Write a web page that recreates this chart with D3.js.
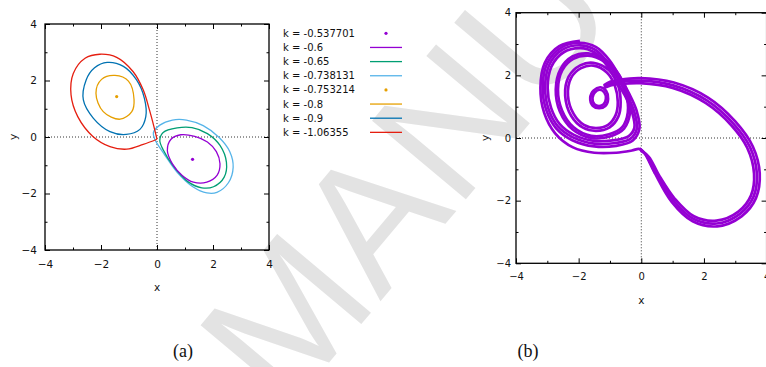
<!DOCTYPE html>
<html>
<head>
<meta charset="utf-8">
<script src="https://cdn.jsdelivr.net/npm/d3@7"></script>
<style>
  html, body { margin: 0; padding: 0; background: #fff; }
  svg { display: block; }
</style>
</head>
<body>
<svg id="fig" width="766" height="367"></svg>
<script>
// ---------- data ----------
const axisTicks = [-4, -2, 0, 2, 4];
const minorTicks = [-3, -1, 1, 3];

const legendLabels = ["k = -0.537701", "k = -0.6", "k = -0.65", "k = -0.738131",
                      "k = -0.753214", "k = -0.8", "k = -0.9", "k = -1.06355"];
const legendKinds = ["dot", "line", "line", "line", "dot", "line", "line", "line"];

// equilibria (k = -0.537701 and k = -0.753214)
const fixedPointRight = [1.27, -0.79];
const fixedPointLeft = [-1.44, 1.43];

// periodic orbits, panel (a)
const orbitK060 = [[0.85,0.08],[1.35,0.02],[1.8,-0.18],[2.12,-0.52],[2.25,-0.95],[2.15,-1.35],[1.78,-1.6],[1.3,-1.6],[0.9,-1.36],[0.55,-0.95],[0.37,-0.48],[0.5,-0.08]];
const orbitK065 = [[0.22,0.16],[0.72,0.32],[1.25,0.33],[1.8,0.12],[2.25,-0.3],[2.48,-0.9],[2.4,-1.42],[2.02,-1.76],[1.6,-1.8],[1.1,-1.58],[0.6,-1.05],[0.22,-0.45],[0.1,-0.12]];
const orbitK0738 = [[-0.13,0.15],[0.1,0.42],[0.55,0.6],[1.05,0.6],[1.65,0.4],[2.22,-0.02],[2.6,-0.52],[2.72,-1.07],[2.55,-1.62],[2.14,-1.96],[1.78,-1.98],[1.28,-1.76],[0.72,-1.25],[0.24,-0.58],[-0.07,-0.1]];
const orbitK080 = [[-1.5,2.18],[-1.02,1.98],[-0.82,1.33],[-0.9,0.9],[-1.32,0.63],[-1.92,0.9],[-2.18,1.55],[-1.98,2.04]];
const orbitK090 = [[-1.78,2.64],[-1.2,2.5],[-0.73,2.02],[-0.45,1.37],[-0.4,0.72],[-0.61,0.27],[-1.1,0.09],[-1.68,0.19],[-2.27,0.66],[-2.63,1.31],[-2.53,2.02],[-2.23,2.45]];
const orbitK106 = [[0.0,-0.08],[-0.11,0.37],[-0.27,0.96],[-0.49,1.66],[-0.85,2.31],[-1.44,2.82],[-2.04,2.93],[-2.57,2.79],[-2.99,2.25],[-3.07,1.49],[-2.83,0.72],[-2.29,0.02],[-1.68,-0.34],[-1.08,-0.43],[-0.49,-0.26],[0.0,-0.08]];

// chaotic attractor, panel (b): strands of the trajectory
const returnLoopOuter = [[-0.06,-0.33],[0.1,-0.48],[0.42,-1.1],[0.97,-2.04],[1.64,-2.66],[2.42,-2.82],[3.2,-2.5],[3.66,-1.92],[3.78,-1.13],[3.56,-0.27],[3.0,0.53],[2.13,1.29],[1.04,1.77],[-0.04,1.91],[-0.7,1.86],[-0.98,1.8],[-1.2,1.68]];
const returnLoopMid = [[-0.04,-0.36],[0.17,-0.55],[0.49,-1.14],[1.02,-1.99],[1.66,-2.58],[2.41,-2.73],[3.15,-2.42],[3.58,-1.88],[3.69,-1.14],[3.47,-0.29],[2.94,0.46],[2.09,1.2],[1.02,1.68],[-0.04,1.83],[-0.7,1.79],[-0.98,1.74],[-1.2,1.64]];
const returnLoopInner = [[-0.02,-0.4],[0.24,-0.6],[0.56,-1.18],[1.07,-1.94],[1.68,-2.5],[2.4,-2.64],[3.1,-2.35],[3.5,-1.84],[3.6,-1.14],[3.38,-0.31],[2.88,0.4],[2.05,1.12],[1.0,1.6],[-0.04,1.75],[-0.7,1.72],[-0.98,1.68],[-1.18,1.6]];
const smallLoopA = [[-1.3,1.62],[-1.52,1.52],[-1.63,1.28],[-1.55,1.03],[-1.35,0.95],[-1.15,1.02],[-1.06,1.25],[-1.12,1.5]];
const smallLoopB = [[-1.32,1.54],[-1.48,1.46],[-1.56,1.28],[-1.5,1.08],[-1.35,1.02],[-1.2,1.08],[-1.13,1.26],[-1.18,1.45]];
const spiralRing1a = [[-1.53,2.4],[-1.95,2.32],[-2.32,1.96],[-2.43,1.35],[-2.24,0.71],[-1.86,0.33],[-1.45,0.23],[-1.01,0.34],[-0.73,0.69],[-0.66,1.15],[-0.75,1.71],[-1.04,2.17]];
const spiralRing1b = [[-1.53,2.31],[-1.92,2.23],[-2.24,1.92],[-2.34,1.35],[-2.16,0.77],[-1.83,0.42],[-1.45,0.32],[-1.06,0.42],[-0.82,0.73],[-0.75,1.15],[-0.84,1.66],[-1.1,2.09]];
const spiralRing2a = [[-1.7,2.7],[-2.2,2.6],[-2.58,2.2],[-2.73,1.55],[-2.6,0.85],[-2.2,0.28],[-1.6,0.0],[-1.0,0.05],[-0.55,0.3],[-0.36,0.8],[-0.42,1.4],[-0.7,2.0],[-1.15,2.5]];
const spiralRing2b = [[-1.7,2.63],[-2.17,2.53],[-2.52,2.17],[-2.66,1.55],[-2.53,0.88],[-2.16,0.34],[-1.6,0.07],[-1.03,0.12],[-0.61,0.35],[-0.43,0.82],[-0.49,1.4],[-0.76,1.97],[-1.18,2.44]];
const spiralRing3a = [[-1.96,3.04],[-2.57,2.88],[-3.01,2.37],[-3.15,1.6],[-3.03,0.88],[-2.72,0.31],[-2.2,-0.07],[-1.5,-0.27],[-0.8,-0.25],[-0.28,-0.09],[-0.06,0.3],[-0.15,0.87],[-0.38,1.4],[-0.66,1.91],[-1.02,2.49],[-1.44,2.9]];
const spiralRing3b = [[-1.96,2.96],[-2.53,2.81],[-2.94,2.33],[-3.07,1.6],[-2.96,0.92],[-2.67,0.38],[-2.18,0.02],[-1.5,-0.18],[-0.82,-0.16],[-0.34,-0.02],[-0.14,0.31],[-0.23,0.85],[-0.45,1.37],[-0.73,1.86],[-1.08,2.42],[-1.46,2.81]];
const spiralRing3c = [[-1.95,2.87],[-2.49,2.73],[-2.87,2.28],[-2.99,1.6],[-2.88,0.96],[-2.61,0.45],[-2.15,0.1],[-1.5,-0.09],[-0.85,-0.07],[-0.4,0.06],[-0.22,0.33],[-0.3,0.84],[-0.52,1.35],[-0.8,1.83],[-1.13,2.36],[-1.49,2.73]];
const exitStrand = [[-1.96,3.1],[-2.62,2.93],[-3.08,2.4],[-3.22,1.6],[-3.1,0.8],[-2.75,0.15],[-2.18,-0.3],[-1.5,-0.47],[-0.8,-0.47],[-0.3,-0.4],[-0.06,-0.35],[0.12,-0.5],[0.44,-1.12]];

// ---------- styles ----------
const C = {
  purple: "#9400d3", green: "#009e73", sky: "#56b4e9",
  orange: "#e69f00", blue: "#0072b2", red: "#e51e10"
};
const legendColors = [C.purple, C.purple, C.green, C.sky, C.orange, C.orange, C.blue, C.red];
const SANS = "DejaVu Sans, sans-serif";
const SERIF = "Liberation Serif, DejaVu Serif, serif";

const svg = d3.select("#fig");

// faint diagonal watermark behind both panels
svg.append("text")
  .attr("transform", "translate(285,415) rotate(-50)")
  .style("font-family", "Liberation Sans, Arial, sans-serif")
  .style("font-size", "178px")
  .attr("fill", "#e3e3e3")
  .text("MANUSCRIPT");

function panel(g, x, y, opt) {
  const [x0, x1] = x.range();
  const [y0, y1] = y.range(); // y0 bottom, y1 top
  // zero axes
  g.append("line").attr("x1", x(0)).attr("x2", x(0)).attr("y1", y0).attr("y2", y1)
    .attr("stroke", "#333").attr("stroke-width", 1).attr("stroke-dasharray", "1,2");
  g.append("line").attr("x1", x0).attr("x2", x1).attr("y1", y(0)).attr("y2", y(0))
    .attr("stroke", "#333").attr("stroke-width", 1).attr("stroke-dasharray", "1,2");

  const axes = g.append("g").attr("class", "axes");
  const mk = (axisFn, scale, vals, size, pad, labels) =>
    axisFn(scale).tickValues(vals).tickSizeInner(-size).tickSizeOuter(0)
      .tickPadding(pad).tickFormat(labels ? d3.format("d") : "");

  const bottom = axes.append("g").attr("transform", `translate(0,${y0})`);
  bottom.call(mk(d3.axisBottom, x, axisTicks, 5, opt.padX, true));
  bottom.append("g").call(mk(d3.axisBottom, x, minorTicks, 2.5, 0, false));
  const top = axes.append("g").attr("transform", `translate(0,${y1})`);
  top.call(mk(d3.axisTop, x, axisTicks, 5, 0, false));
  top.append("g").call(mk(d3.axisTop, x, minorTicks, 2.5, 0, false));
  const left = axes.append("g").attr("transform", `translate(${x0},0)`);
  left.call(mk(d3.axisLeft, y, axisTicks, 5, opt.padY, true));
  left.append("g").call(mk(d3.axisLeft, y, minorTicks, 2.5, 0, false));
  const right = axes.append("g").attr("transform", `translate(${x1},0)`);
  right.call(mk(d3.axisRight, y, axisTicks, 5, 0, false));
  right.append("g").call(mk(d3.axisRight, y, minorTicks, 2.5, 0, false));

  axes.selectAll(".domain").remove();
  axes.selectAll(".tick line").attr("stroke", "#000").attr("stroke-width", 1);
  axes.selectAll(".tick text").attr("fill", "#111")
    .style("font-family", SANS).style("font-size", opt.tickFont + "px");

  g.append("rect").attr("x", x0).attr("y", y1).attr("width", x1 - x0).attr("height", y0 - y1)
    .attr("fill", "none").attr("stroke", "#000").attr("stroke-width", 1.3);

  g.append("text").attr("x", (x0 + x1) / 2).attr("y", opt.xTitleY)
    .attr("text-anchor", "middle").style("font-family", SANS).style("font-size", "10.5px")
    .attr("fill", "#111").text("x");
  g.append("text").attr("transform", `translate(${opt.yTitleX},${y(0)}) rotate(-90)`)
    .attr("text-anchor", "middle").attr("dy", "0.35em")
    .style("font-family", SANS).style("font-size", "10.5px").attr("fill", "#111").text("y");
}

// ---------- panel (a) ----------
const xA = d3.scaleLinear().domain([-4, 4]).range([45, 269]);
const yA = d3.scaleLinear().domain([-4, 4]).range([250, 24]);
const gA = svg.append("g");
panel(gA, xA, yA, { padX: 11, padY: 8, xTitleY: 291, yTitleX: 13, tickFont: 10.5 });

const lineA = d3.line().x(d => xA(d[0])).y(d => yA(d[1]));
const closedA = lineA.curve(d3.curveCatmullRomClosed.alpha(0.5));
const plotA = gA.append("g").attr("fill", "none").attr("stroke-width", 1.3);
[[orbitK0738, C.sky], [orbitK065, C.green], [orbitK060, C.purple],
 [orbitK090, C.blue], [orbitK080, C.orange]].forEach(([pts, col]) => {
  plotA.append("path").attr("d", closedA(pts)).attr("stroke", col);
});
plotA.append("path")
  .attr("d", d3.line().x(d => xA(d[0])).y(d => yA(d[1])).curve(d3.curveCatmullRom.alpha(0.5))(orbitK106))
  .attr("stroke", C.red);
gA.append("circle").attr("cx", xA(fixedPointRight[0])).attr("cy", yA(fixedPointRight[1])).attr("r", 1.6).attr("fill", C.purple);
gA.append("circle").attr("cx", xA(fixedPointLeft[0])).attr("cy", yA(fixedPointLeft[1])).attr("r", 1.6).attr("fill", C.orange);

// legend
const leg = svg.append("g");
legendLabels.forEach((lab, i) => {
  const yy = 33.3 + i * 14.15;
  leg.append("text").attr("x", 283).attr("y", yy).attr("dy", "0.35em")
    .style("font-family", SANS).style("font-size", "10px").attr("fill", "#111").text(lab);
  if (legendKinds[i] === "dot") {
    leg.append("circle").attr("cx", 386).attr("cy", yy).attr("r", 1.6).attr("fill", legendColors[i]);
  } else {
    leg.append("line").attr("x1", 370).attr("x2", 402).attr("y1", yy).attr("y2", yy)
      .attr("stroke", legendColors[i]).attr("stroke-width", 1.3);
  }
});

// ---------- panel (b) ----------
const xB = d3.scaleLinear().domain([-4, 4]).range([516, 766.6]);
const yB = d3.scaleLinear().domain([-4, 4]).range([263.3, 12.7]);
const gB = svg.append("g");
panel(gB, xB, yB, { padX: 10, padY: 5, xTitleY: 304, yTitleX: 485, tickFont: 10 });

const lineB = d3.line().x(d => xB(d[0])).y(d => yB(d[1])).curve(d3.curveCatmullRom.alpha(0.5));
const ringB = d3.line().x(d => xB(d[0])).y(d => yB(d[1])).curve(d3.curveCatmullRomClosed.alpha(0.5));
const plotB = gB.append("g").attr("fill", "none").attr("stroke", C.purple)
  .attr("stroke-width", 2.7).attr("stroke-linejoin", "round");
[returnLoopOuter, returnLoopMid, returnLoopInner, exitStrand].forEach(p =>
  plotB.append("path").attr("d", lineB(p)));
[smallLoopA, smallLoopB, spiralRing1a, spiralRing1b, spiralRing2a, spiralRing2b,
 spiralRing3a, spiralRing3b, spiralRing3c].forEach(p =>
  plotB.append("path").attr("d", ringB(p)));

// ---------- captions ----------
[["(a)", 183], ["(b)", 528]].forEach(([t, cx]) => {
  svg.append("text").attr("x", cx).attr("y", 357).attr("text-anchor", "middle")
    .style("font-family", SERIF).style("font-size", "18px").attr("fill", "#111").text(t);
});
</script>
</body>
</html>
